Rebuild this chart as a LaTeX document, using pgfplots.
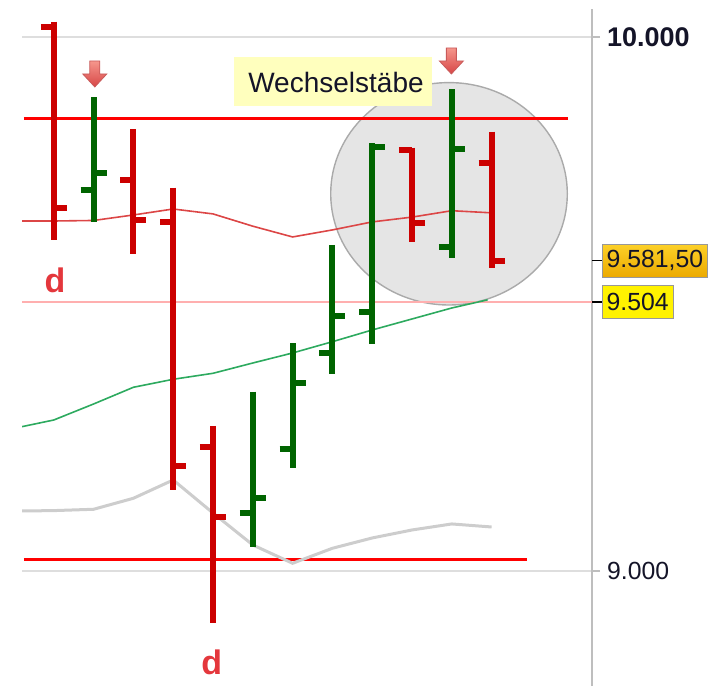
\documentclass[border=0pt]{standalone}
\usepackage{fontspec}
\setmainfont{Liberation Sans}
\usepackage{pgfplots}
\usepackage{pgfplotstable}
\pgfplotsset{compat=1.18}

\definecolor{barred}{RGB}{204,0,0}
\definecolor{bargreen}{RGB}{0,100,0}
\definecolor{linered}{RGB}{255,0,0}
\definecolor{mared}{RGB}{220,70,70}
\definecolor{magreen}{RGB}{45,170,95}
\definecolor{bandgray}{RGB}{205,205,205}
\definecolor{pinkline}{RGB}{255,175,175}
\definecolor{axisgray}{RGB}{190,190,190}
\definecolor{gridgray}{RGB}{222,222,222}
\definecolor{labelcol}{RGB}{20,20,40}
\definecolor{circfill}{RGB}{229,229,229}
\definecolor{circedge}{RGB}{170,170,170}
\definecolor{notefill}{RGB}{255,255,190}
\definecolor{dred}{RGB}{228,55,60}
\definecolor{arrtop}{RGB}{245,150,140}
\definecolor{arrbot}{RGB}{215,70,70}
\definecolor{arredge}{RGB}{200,90,90}
\definecolor{goldtop}{RGB}{252,208,40}
\definecolor{goldbot}{RGB}{236,170,0}

% OHLC bars, k = bar index
\pgfplotstableread{
k  o       h       l      c
0  9950    10060   9900   10029
2  9713.8  9887.6  9654.4 9745.1
6  9108.0  9335.8  9045.4 9137.2
7  9227.9  9426.6  9192.3 9351.6
8  9407.8  9611.0  9369.0 9478.5
9  9485.8  9801.4  9425.0 9795.0
11 9606.5  9902.6  9585.8 9790.1
}\upbars
\pgfplotstableread{
k  o       h       l      c
1  10019.9 10029.2 9620.1 9680.7
3  9732.6  9827.6  9593.9 9657.6
4  9654.4  9718.1  9151.6 9197.2
5  9231.7  9271.6  8902.9 9101.6
10 9788.8  9793.1  9615.8 9651.4
12 9763.9  9823.1  9567.1 9581.5
}\downbars

\pgfdeclareplotmark{nomark}{}
\pgfdeclareplotmark{otick}{%
  \pgfpathmoveto{\pgfqpoint{-6.5pt}{0pt}}\pgfpathlineto{\pgfqpoint{0pt}{0pt}}\pgfusepathqstroke}
\pgfdeclareplotmark{ctick}{%
  \pgfpathmoveto{\pgfqpoint{0pt}{0pt}}\pgfpathlineto{\pgfqpoint{6.5pt}{0pt}}\pgfusepathqstroke}

\newcommand{\sigarrow}[1]{%
  \path[draw=arredge, line width=0.4pt, top color=arrtop, bottom color=arrbot]
    (#1) ++(-2.5pt,0pt) -- ++(5pt,0pt) -- ++(0pt,-6.5pt) -- ++(3.5pt,0pt)
    -- ++(-6pt,-6.5pt) -- ++(-6pt,6.5pt) -- ++(3.5pt,0pt) -- cycle;}

\begin{document}
\begin{tikzpicture}
\begin{axis}[
    scale only axis,
    width=285pt, height=338.5pt,
    xmin=0.201, xmax=14.523,
    ymin=8784.3, ymax=10053,
    axis x line=none,
    axis y line=right,
    axis line style={draw=axisgray, line width=1pt, -},
    xtick=\empty,
    ytick={9000,10000},
    scaled y ticks=false,
    yticklabels={{\fontsize{12.4}{14}\selectfont 9.000},{\fontsize{13.5}{15}\selectfont\bfseries 10.000}},
    yticklabel style={text=labelcol},
    ymajorgrids,
    grid style={gridgray, line width=0.8pt},
    tick align=outside,
    major tick length=4pt,
    tick style={axisgray, line width=0.8pt},
    clip marker paths=true,
]
\coordinate (sw) at (rel axis cs:0,0);
\coordinate (lastpx) at (axis cs:14.523,9581.5);
\coordinate (lvl) at (axis cs:14.523,9504);
\coordinate (arrA) at (axis cs:2.03,9955.6);
\coordinate (arrB) at (axis cs:10.99,9980);
\coordinate (note) at (axis cs:8.015,9916.2);
\coordinate (dA) at (axis cs:1.03,9545.2);
\coordinate (dB) at (axis cs:4.97,8829.3);

% highlight circle
\draw[fill=circfill, draw=circedge, line width=0.7pt]
  (axis cs:10.93,9706.7) ellipse [x radius=59.15pt, y radius=55.6pt];

% reference lines
\addplot[pinkline, line width=0.6pt] coordinates {(0.2,9504) (14.6,9504)};
\addplot[linered, line width=1.5pt] coordinates {(0.25,9848.2) (13.92,9848.2)};
\addplot[linered, line width=1.5pt] coordinates {(0.25,9020.5) (12.89,9020.5)};

% lower band (gray)
\addplot[bandgray, line width=1.5pt] coordinates {
  (0.2,9112.3) (1,9113) (2,9115.5) (3,9136.1) (4,9170.4) (5,9108.5) (6,9048.6)
  (7,9014.3) (8,9042.4) (9,9061.7) (10,9076.7) (11,9088) (12,9082.3)};
% moving averages
\addplot[mared, line width=0.8pt] coordinates {
  (0.2,9655.7) (1,9655.7) (2,9656.7) (3,9667) (4,9678.2) (5,9669) (6,9646)
  (7,9625.8) (8,9639) (9,9654) (10,9663) (11,9675) (12,9671)};
\addplot[magreen, line width=0.8pt] coordinates {
  (0.2,9270.3) (1,9282.8) (2,9312.8) (3,9344.1) (4,9359.1) (5,9370.3) (6,9389.6)
  (7,9408.4) (8,9429.5) (9,9451.5) (10,9472.1) (11,9492.7) (11.9,9508)};

% bars: high-low range
\addplot[only marks, mark=nomark, error bars/.cd, y dir=minus, y explicit,
  error mark=none, error bar style={draw=bargreen, line width=3pt}]
  table[x=k, y=h, y error expr=\thisrow{h}-\thisrow{l}] {\upbars};
\addplot[only marks, mark=nomark, error bars/.cd, y dir=minus, y explicit,
  error mark=none, error bar style={draw=barred, line width=3pt}]
  table[x=k, y=h, y error expr=\thisrow{h}-\thisrow{l}] {\downbars};
% open / close ticks
\addplot[only marks, mark=otick, mark options={draw=bargreen, line width=3pt}] table[x=k, y=o] {\upbars};
\addplot[only marks, mark=ctick, mark options={draw=bargreen, line width=3pt}] table[x=k, y=c] {\upbars};
\addplot[only marks, mark=otick, mark options={draw=barred, line width=3pt}] table[x=k, y=o] {\downbars};
\addplot[only marks, mark=ctick, mark options={draw=barred, line width=3pt}] table[x=k, y=c] {\downbars};
\end{axis}

% annotations
\sigarrow{arrA}
\sigarrow{arrB}
\node[fill=notefill, minimum width=99pt, minimum height=24.5pt, inner sep=0pt,
  text=labelcol, font=\fontsize{14}{16}\selectfont]
  at (note) {\hspace{3pt}Wechselstäbe};
\node[text=dred, font=\fontsize{17}{19}\selectfont\bfseries] at (dA) {d};
\node[text=dred, font=\fontsize{17}{19}\selectfont\bfseries] at (dB) {d};

% last price / level labels on the right scale
\draw[black, line width=0.75pt] (lastpx) -- ++(5pt,0pt);
\draw[black, line width=0.75pt] (lvl) -- ++(5pt,0pt);
\node[anchor=west, draw=axisgray!80!black, line width=0.5pt, top color=goldtop, bottom color=goldbot,
  minimum height=16.5pt, inner xsep=2.2pt, inner ysep=0pt, text=labelcol,
  font=\fontsize{12.4}{14}\selectfont]
  at ([xshift=4.85pt]lastpx) {9.581,50};
\node[anchor=west, draw=axisgray!80!black, line width=0.5pt, fill=yellow,
  minimum height=16.5pt, inner xsep=2.2pt, inner ysep=0pt, text=labelcol,
  font=\fontsize{12.4}{14}\selectfont]
  at ([xshift=4.85pt]lvl) {9.504};

\pgfresetboundingbox
\path (sw) ++(-11pt,0pt) rectangle ++(357.5pt,343pt);
\end{tikzpicture}
\end{document}
